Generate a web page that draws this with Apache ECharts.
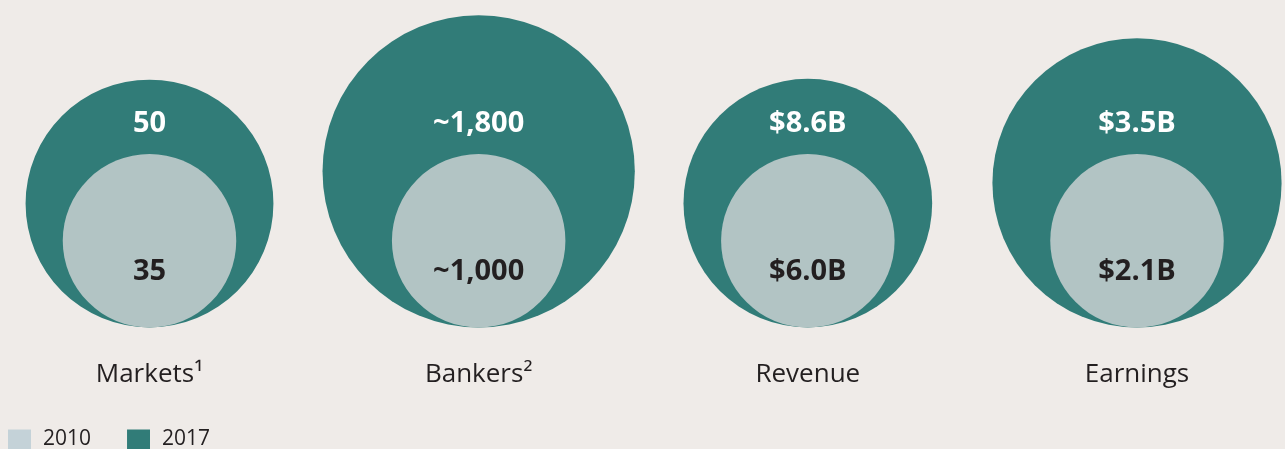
<!DOCTYPE html>
<html>
<head>
<meta charset="utf-8">
<script src="https://cdn.jsdelivr.net/npm/echarts@6/dist/echarts.min.js"></script>
<style>
  html, body { margin: 0; padding: 0; background: #efebe8; }
  #main-chart { width: 1285px; height: 449px; }
</style>
</head>
<body>
<div id="main-chart"></div>
<script>
const categories = ['Markets¹', 'Bankers²', 'Revenue', 'Earnings'];
const values2010 = [35, 1000, 6.0, 2.1];
const values2017 = [50, 1800, 8.6, 3.5];
const labels2010 = ['35', '~1,000', '$6.0B', '$2.1B'];
const labels2017 = ['50', '~1,800', '$8.6B', '$3.5B'];

const TEAL = '#317c78';
const GREY = '#b2c4c4';
const FONT = '"Open Sans", sans-serif';

document.addEventListener('DOMContentLoaded', () => {
    const chartContainer = document.getElementById('main-chart');
    const myChart = echarts.init(chartContainer);

    // circle diameter is the 2017 value relative to 2010 (2010 = 1)
    function makeRenderer(labels, textColor, labelOffset) {
        return function (params, api) {
            const idx = api.value(0);
            const ratio = api.value(1);
            const base = api.coord([idx, 0]);
            const r = api.size([0, ratio])[1] / 2;
            return {
                type: 'group',
                children: [
                    {
                        type: 'circle',
                        shape: { cx: base[0], cy: base[1] - r, r: r },
                        style: { fill: api.visual('color') }
                    },
                    {
                        type: 'text',
                        x: base[0],
                        y: base[1] - labelOffset,
                        style: {
                            text: labels[idx],
                            fill: textColor,
                            font: 'bold 29px ' + FONT,
                            align: 'center',
                            verticalAlign: 'middle'
                        }
                    }
                ]
            };
        };
    }

    const option = {
        backgroundColor: '#efebe8',
        animation: false,
        grid: { left: 149.5, right: 148, top: 15.2, bottom: 121.5 },
        xAxis: {
            type: 'category',
            data: categories,
            boundaryGap: false,
            axisLine: { show: false },
            axisTick: { show: false },
            axisLabel: {
                margin: 34,
                fontFamily: FONT,
                fontSize: 26,
                color: '#231f20'
            }
        },
        yAxis: {
            type: 'value',
            min: 0,
            max: 1.8,
            show: false
        },
        legend: {
            left: 3,
            top: 424,
            itemWidth: 23,
            itemHeight: 20,
            itemGap: 36,
            icon: 'rect',
            textStyle: {
                fontFamily: FONT,
                fontSize: 21,
                color: '#231f20',
                padding: [5, 0, 0, 7]
            },
            data: [
                { name: '2010', itemStyle: { color: '#c4d2d8' } },
                { name: '2017', itemStyle: { color: TEAL } }
            ]
        },
        series: [
            {
                name: '2017',
                type: 'custom',
                color: TEAL,
                renderItem: makeRenderer(labels2017, '#ffffff', 204),
                data: values2017.map((v, i) => [i, v / values2010[i]]),
                z: 1
            },
            {
                name: '2010',
                type: 'custom',
                color: GREY,
                renderItem: makeRenderer(labels2010, '#231f20', 56),
                data: values2010.map((v, i) => [i, 1]),
                z: 2
            }
        ]
    };
    myChart.setOption(option);
});
</script>
</body>
</html>
